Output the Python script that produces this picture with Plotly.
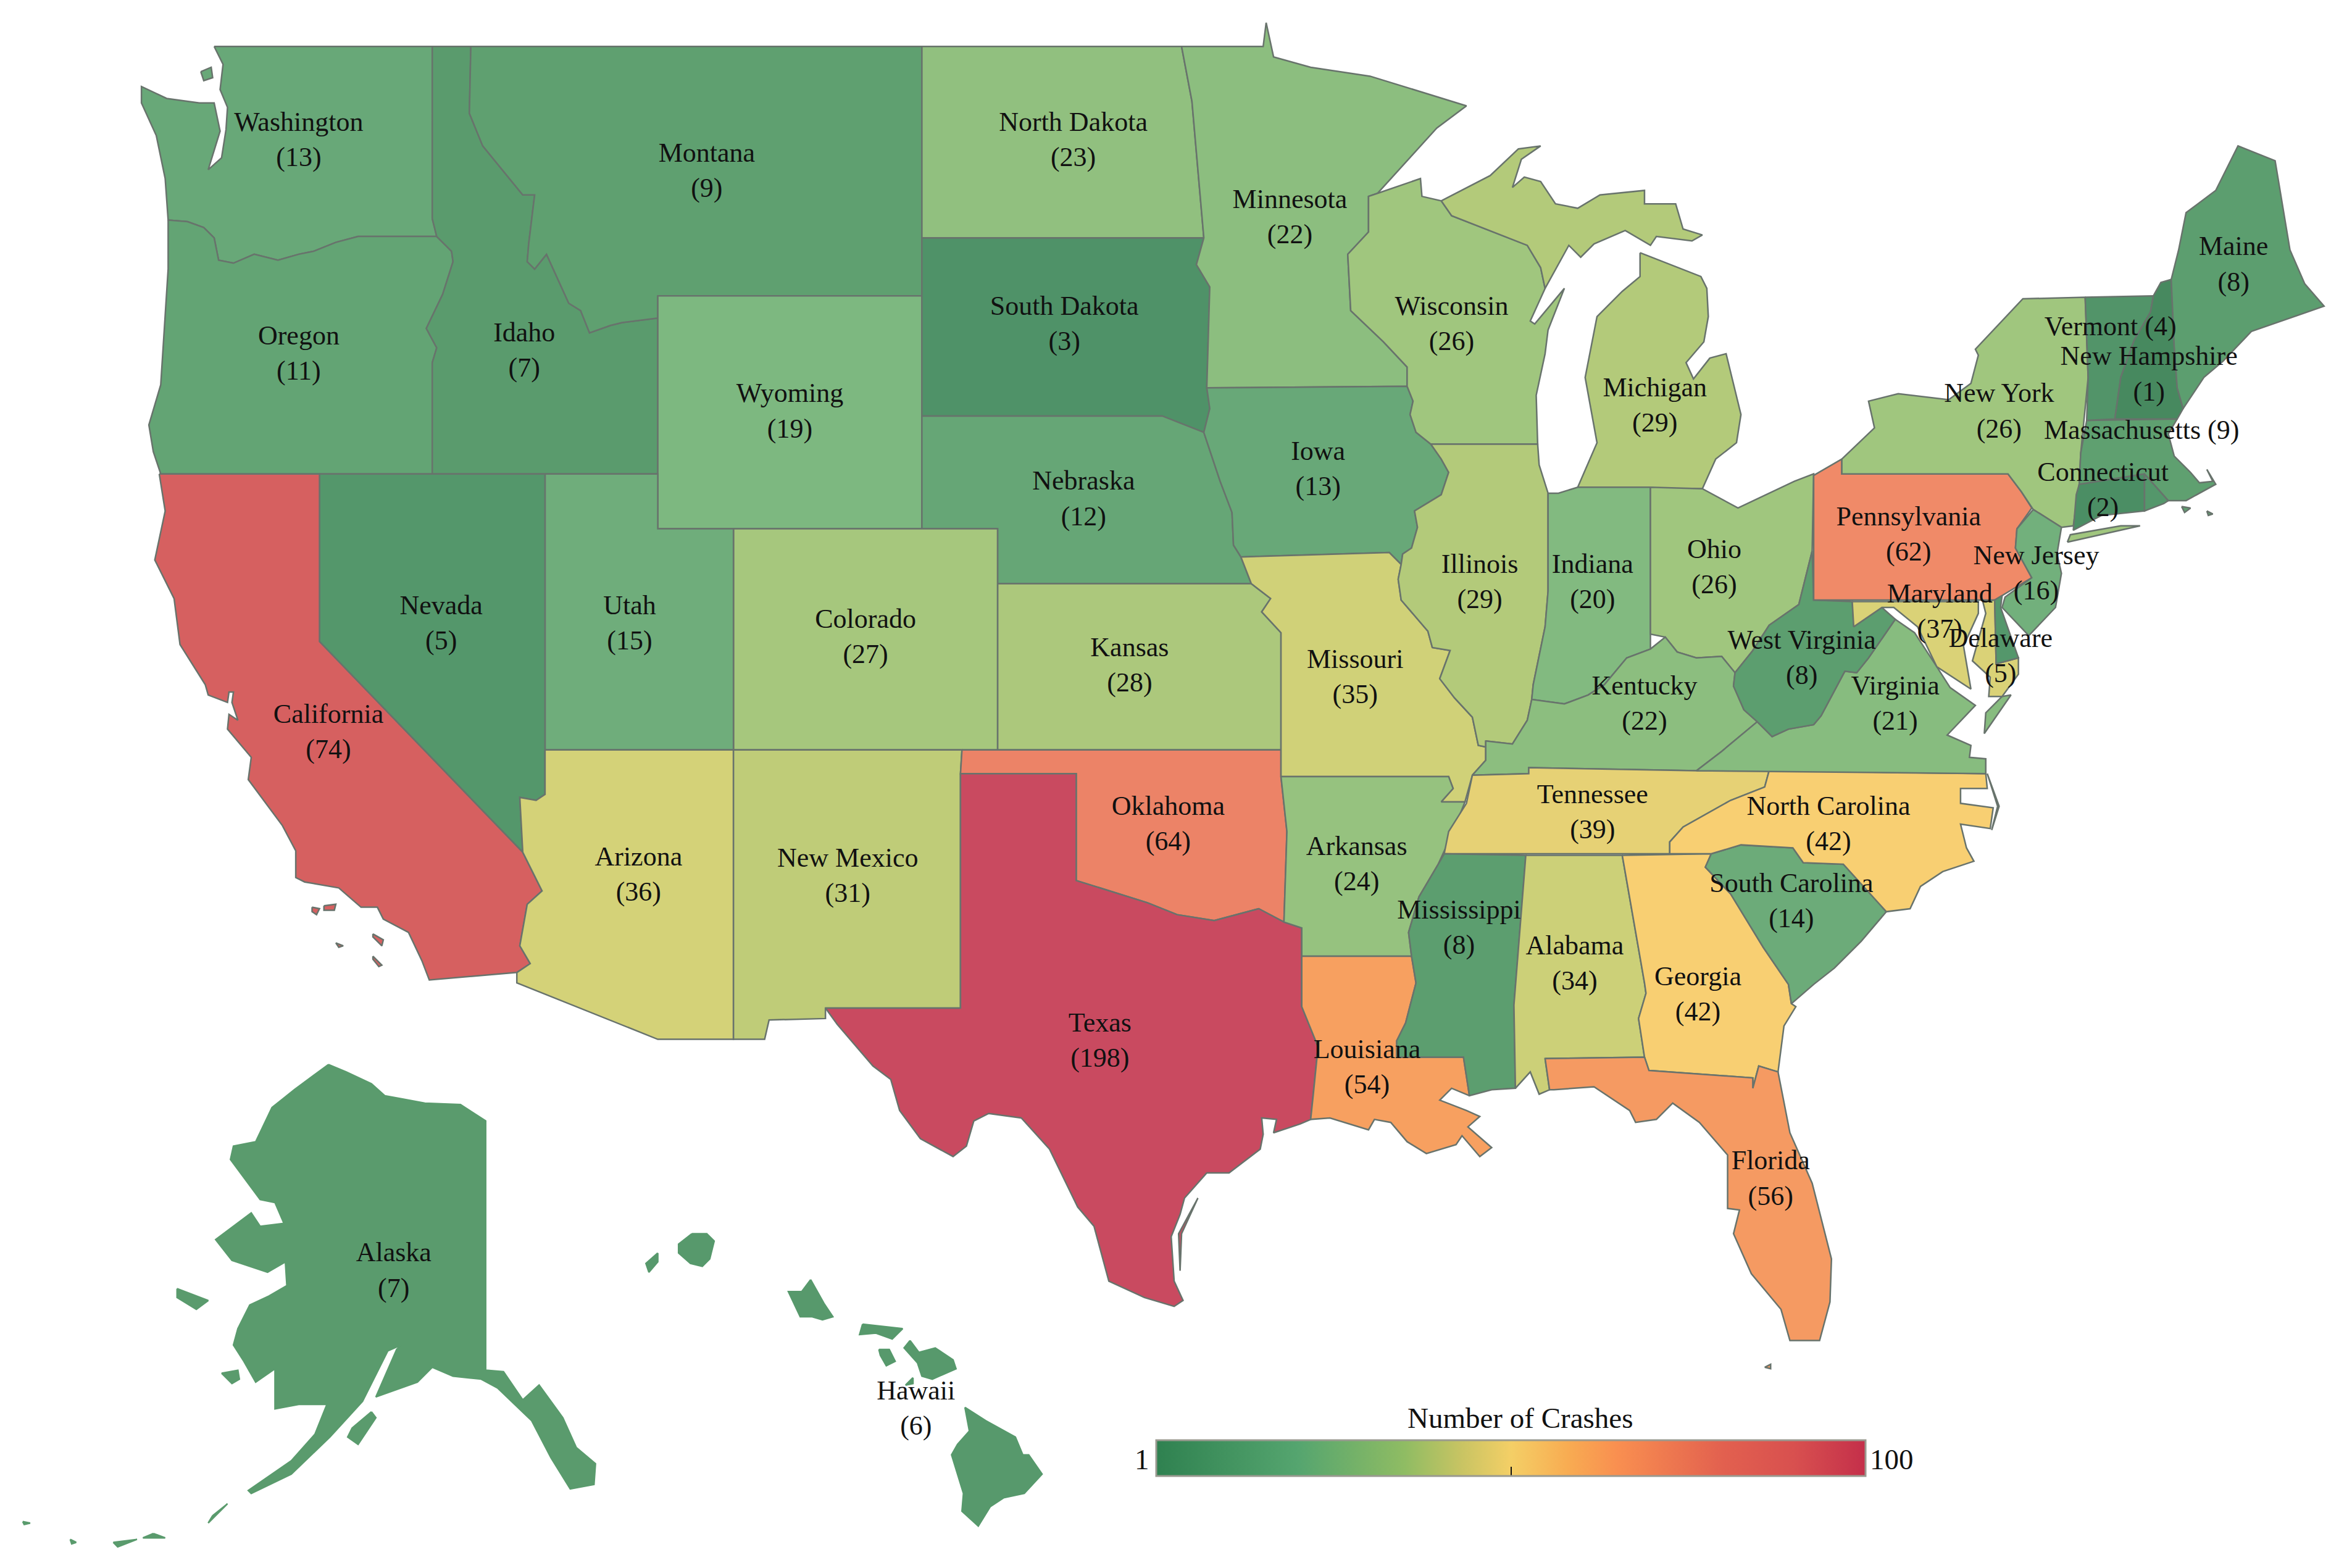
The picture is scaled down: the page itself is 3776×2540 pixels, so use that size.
import plotly.graph_objects as go
from plotly.colors import sample_colorscale
import numpy as np

states = ["Washington", "Oregon", "Idaho", "Montana", "Wyoming", "North Dakota", "South Dakota", "Nebraska",
          "Kansas", "Colorado", "Utah", "Nevada", "California", "Arizona", "New Mexico", "Oklahoma", "Texas",
          "Minnesota", "Iowa", "Missouri", "Arkansas", "Louisiana", "Wisconsin", "Illinois", "Michigan",
          "Indiana", "Ohio", "Kentucky", "Tennessee", "Mississippi", "Alabama", "Georgia", "Florida",
          "South Carolina", "North Carolina", "Virginia", "West Virginia", "Pennsylvania", "New York",
          "New Jersey", "Maryland", "Delaware", "Connecticut", "Massachusetts", "Vermont", "New Hampshire",
          "Maine", "Alaska", "Hawaii"]
crashes = [13, 11, 7, 9, 19, 23, 3, 12, 28, 27, 15, 5, 74, 36, 31, 64, 198, 22, 13, 35, 24, 54, 26, 29, 29,
           20, 26, 22, 39, 8, 34, 42, 56, 14, 42, 21, 8, 62, 26, 16, 37, 5, 2, 9, 4, 1, 8, 7, 6]

# Rhode Island has a fill but no label in the picture, value is a guess from its colour
unlabelled_states = ["Rhode Island"]
unlabelled_crashes = [5]

# one line labels, everything else wraps the count under the name
one_line = ["Massachusetts", "Vermont"]

outlines = {
    "Washington": [[(141, 28), (288, 28), (288, 144), (291, 156), (238, 156), (223, 160), (208, 166), (198, 168),
                    (184, 172), (168, 168), (154, 174), (144, 172), (141, 157), (134, 150), (123, 146), (110, 145),
                    (108, 117), (102, 88), (92, 66), (92, 55), (109, 63), (131, 66), (141, 66), (145, 85), (141, 98),
                    (137, 111), (146, 103), (149, 84), (150, 69), (145, 57), (147, 40)],
                   [(132, 45), (139, 42), (140, 49), (134, 51)]],
    "Oregon": [[(110, 145), (123, 146), (134, 150), (141, 157), (144, 172), (154, 174), (168, 168), (184, 172),
                (198, 168), (208, 166), (223, 160), (238, 156), (291, 156), (301, 166), (302, 173), (295, 195),
                (284, 218), (291, 231), (288, 241), (288, 316), (105, 316), (100, 301), (97, 283), (105, 256),
                (110, 178)]],
    "Idaho": [[(288, 28), (314, 28), (313, 73), (322, 95), (349, 128), (357, 128), (353, 161), (352, 173), (357, 178),
               (365, 168), (380, 201), (388, 206), (394, 221), (408, 216), (416, 214), (440, 211), (440, 316),
               (288, 316), (288, 241), (291, 231), (284, 218), (295, 195), (302, 173), (301, 166), (291, 156),
               (288, 144)]],
    "Montana": [[(314, 28), (618, 28), (618, 196), (440, 196), (440, 211), (416, 214), (408, 216), (394, 221),
                 (388, 206), (380, 201), (365, 168), (357, 178), (352, 173), (353, 161), (357, 128), (349, 128),
                 (322, 95), (313, 73)]],
    "Wyoming": [[(440, 196), (618, 196), (618, 353), (440, 353)]],
    "North Dakota": [[(618, 28), (793, 28), (800, 65), (808, 157), (618, 157)]],
    "South Dakota": [[(618, 157), (808, 157), (803, 175), (812, 190), (810, 258), (812, 272), (808, 288), (780, 277),
                      (618, 277)]],
    "Nebraska": [[(618, 277), (780, 277), (808, 288), (819, 321), (827, 342), (828, 364), (833, 372), (840, 390),
                  (669, 390), (669, 353), (618, 353)]],
    "Kansas": [[(669, 390), (840, 390), (853, 400), (847, 409), (860, 423), (860, 502), (669, 502)]],
    "Colorado": [[(491, 353), (669, 353), (669, 502), (491, 502)]],
    "Utah": [[(364, 316), (440, 316), (440, 353), (491, 353), (491, 502), (364, 502)]],
    "Nevada": [[(212, 316), (364, 316), (364, 532), (358, 536), (347, 534), (349, 571), (212, 429)]],
    "California": [[(104, 316), (212, 316), (212, 429), (349, 571), (362, 597), (352, 606), (347, 634), (354, 646),
                     (345, 652), (286, 657), (281, 644), (272, 625), (255, 616), (251, 608), (240, 608), (225, 595),
                     (202, 591), (196, 588), (196, 570), (187, 553), (164, 522), (166, 507), (150, 488), (151, 478),
                     (157, 482), (153, 470), (154, 463), (151, 463), (150, 470), (137, 465), (135, 458), (118, 431),
                     (114, 400), (101, 374), (108, 341)],
                    [(215, 607), (223, 606), (222, 610), (215, 610)], [(207, 608), (212, 609), (210, 613), (207, 611)],
                    [(248, 626), (255, 630), (254, 634), (248, 628)], [(248, 641), (254, 647), (252, 648), (248, 643)],
                    [(223, 632), (228, 634), (225, 635)]],
    "Arizona": [[(364, 502), (491, 502), (491, 697), (440, 697), (345, 659), (345, 652), (354, 646), (347, 634),
                 (352, 606), (362, 597), (349, 571), (347, 534), (358, 536), (364, 532)]],
    "New Mexico": [[(491, 502), (645, 502), (644, 518), (644, 676), (553, 676), (553, 683), (515, 684), (512, 697),
                    (491, 697)]],
    "Oklahoma": [[(645, 502), (860, 502), (860, 520), (864, 557), (862, 618), (845, 609), (815, 617), (790, 613),
                  (770, 605), (722, 590), (722, 518), (644, 518)]],
    "Texas": [[(644, 518), (722, 518), (722, 590), (770, 605), (790, 613), (815, 617), (845, 609), (862, 618),
               (874, 622), (874, 675), (885, 702), (882, 732), (880, 751), (873, 754), (855, 760), (857, 751),
               (847, 750), (848, 761), (846, 771), (825, 787), (810, 787), (795, 804), (792, 815), (786, 830),
               (787, 843), (788, 860), (794, 873), (788, 877), (768, 871), (744, 860), (734, 823), (723, 810),
               (704, 771), (685, 750), (663, 747), (653, 752), (648, 769), (639, 776), (617, 764), (603, 745),
               (597, 724), (585, 715), (561, 687), (553, 676), (644, 676)],
              [(792, 853), (791, 828), (804, 804), (793, 828)]],
    "Minnesota": [[(793, 28), (848, 28), (850, 12), (855, 35), (880, 42), (920, 48), (985, 68), (965, 83), (925, 127),
                   (919, 129), (919, 153), (905, 168), (907, 206), (929, 227), (945, 244), (945, 257), (810, 258),
                   (812, 190), (803, 175), (808, 157), (800, 65)]],
    "Iowa": [[(810, 258), (945, 257), (949, 267), (947, 276), (951, 288), (961, 296), (968, 306), (973, 315),
              (968, 330), (950, 341), (952, 352), (948, 366), (942, 370), (941, 377), (933, 369), (833, 372),
              (828, 364), (827, 342), (819, 321), (808, 288), (812, 272)]],
    "Missouri": [[(833, 372), (933, 369), (941, 377), (939, 387), (941, 401), (959, 422), (962, 433), (974, 435),
                  (967, 454), (977, 467), (989, 480), (993, 499), (998, 500), (998, 509), (989, 519), (984, 537),
                  (968, 537), (976, 528), (973, 520), (860, 520), (860, 423), (847, 409), (853, 400), (840, 390)]],
    "Arkansas": [[(860, 520), (973, 520), (976, 528), (968, 537), (984, 537), (976, 557), (966, 579), (953, 601),
                  (946, 625), (948, 641), (874, 641), (874, 622), (862, 618), (864, 557)]],
    "Louisiana": [[(874, 641), (948, 641), (951, 659), (944, 686), (938, 698), (938, 709), (983, 709), (987, 735),
                   (975, 730), (967, 738), (985, 745), (994, 749), (986, 756), (1002, 770), (994, 776), (982, 762),
                   (978, 768), (958, 774), (945, 766), (934, 753), (923, 751), (919, 758), (893, 750), (880, 751),
                   (882, 732), (885, 702), (874, 675)]],
    "Wisconsin": [[(925, 127), (954, 117), (955, 129), (968, 132), (975, 142), (1026, 162), (1035, 177), (1038, 191),
                   (1028, 213), (1031, 215), (1051, 191), (1040, 219), (1038, 235), (1032, 263), (1033, 296),
                   (961, 296), (951, 288), (947, 276), (949, 267), (945, 257), (945, 244), (929, 227), (907, 206),
                   (905, 168), (919, 153), (919, 129)]],
    "Illinois": [[(961, 296), (1033, 296), (1034, 310), (1040, 329), (1040, 395), (1038, 419), (1030, 458),
                  (1029, 468), (1026, 482), (1016, 498), (998, 496), (998, 500), (993, 499), (989, 480), (977, 467),
                  (967, 454), (974, 435), (962, 433), (959, 422), (941, 401), (939, 387), (941, 377), (942, 370),
                  (948, 366), (952, 352), (950, 341), (968, 330), (973, 315), (968, 306)]],
    "Michigan": [[(968, 132), (1001, 115), (1020, 97), (1035, 95), (1022, 104), (1016, 123), (1024, 116), (1035, 119),
                  (1045, 134), (1060, 137), (1075, 128), (1105, 125), (1105, 134), (1126, 134), (1131, 151),
                  (1144, 155), (1137, 159), (1113, 156), (1109, 162), (1092, 152), (1071, 161), (1062, 170),
                  (1054, 162), (1038, 191), (1035, 177), (1026, 162), (975, 142)],
                 [(1102, 167), (1143, 183), (1147, 191), (1148, 210), (1145, 227), (1133, 241), (1138, 252),
                  (1149, 238), (1160, 235), (1170, 276), (1167, 295), (1153, 306), (1144, 326), (1060, 325),
                  (1073, 295), (1065, 251), (1073, 210), (1090, 193), (1102, 183)]],
    "Indiana": [[(1040, 329), (1047, 329), (1060, 325), (1109, 325), (1109, 434), (1093, 440), (1078, 458), (1067, 465),
                 (1051, 471), (1029, 468), (1030, 458), (1038, 419), (1040, 395)]],
    "Ohio": [[(1109, 325), (1144, 326), (1168, 339), (1206, 321), (1219, 316), (1218, 368), (1209, 404), (1189, 418),
              (1178, 435), (1166, 450), (1157, 439), (1140, 440), (1127, 436), (1119, 426), (1109, 424)]],
    "Kentucky": [[(998, 496), (1016, 498), (1026, 482), (1029, 468), (1051, 471), (1067, 465), (1078, 458), (1093, 440),
                  (1109, 434), (1119, 426), (1127, 436), (1140, 440), (1157, 439), (1166, 450), (1165, 459),
                  (1172, 475), (1181, 483), (1157, 503), (1140, 516), (1027, 514), (1027, 518), (989, 519), (998, 509),
                  (998, 500)]],
    "Tennessee": [[(989, 519), (1027, 518), (1027, 514), (1140, 516), (1189, 516), (1186, 527), (1163, 536),
                   (1131, 554), (1122, 564), (1122, 572), (970, 572), (973, 557), (985, 538)]],
    "Mississippi": [[(970, 572), (1025, 573), (1017, 674), (1018, 730), (1002, 731), (987, 735), (983, 709), (938, 709),
                     (938, 698), (944, 686), (951, 659), (948, 641), (946, 625), (953, 601), (966, 579)]],
    "Alabama": [[(1025, 573), (1090, 573), (1105, 659), (1106, 666), (1101, 683), (1105, 709), (1038, 710), (1041, 731),
                 (1034, 734), (1028, 719), (1018, 730), (1017, 674)]],
    "Georgia": [[(1090, 573), (1150, 572), (1146, 581), (1163, 599), (1185, 635), (1202, 660), (1204, 673), (1207, 675),
                 (1199, 688), (1195, 719), (1182, 715), (1178, 730), (1178, 723), (1108, 718), (1105, 709), (1101, 683),
                 (1106, 666), (1105, 659)]],
    "Florida": [[(1038, 710), (1105, 709), (1108, 718), (1178, 723), (1178, 730), (1182, 715), (1195, 719), (1203, 760),
                 (1218, 794), (1231, 845), (1230, 874), (1223, 900), (1203, 900), (1197, 879), (1177, 855), (1165, 828),
                 (1169, 812), (1161, 811), (1161, 789), (1161, 775), (1142, 753), (1124, 740), (1113, 751), (1099, 753),
                 (1095, 745), (1071, 729), (1044, 731), (1041, 731)],
                [(1186, 918), (1190, 916), (1190, 919)]],
    "South Carolina": [[(1150, 572), (1170, 566), (1205, 568), (1212, 578), (1239, 579), (1268, 611), (1251, 631),
                        (1233, 649), (1219, 660), (1204, 673), (1202, 660), (1185, 635), (1163, 599), (1146, 581)]],
    "North Carolina": [[(1189, 516), (1335, 518), (1336, 528), (1318, 528), (1318, 538), (1340, 541), (1338, 555),
                        (1318, 552), (1322, 568), (1327, 577), (1306, 584), (1291, 594), (1284, 609), (1268, 611),
                        (1239, 579), (1212, 578), (1205, 568), (1170, 566), (1150, 572), (1122, 572), (1122, 564),
                        (1131, 554), (1163, 536), (1186, 527)],
                       [(1336, 518), (1344, 540), (1339, 556), (1343, 540)]],
    "Virginia": [[(1140, 516), (1157, 503), (1181, 483), (1191, 493), (1202, 488), (1219, 485), (1224, 479), (1240, 449),
                  (1248, 450), (1256, 440), (1274, 414), (1287, 423), (1302, 446), (1311, 460), (1328, 472), (1309, 492),
                  (1325, 499), (1324, 507), (1335, 508), (1335, 518)],
                 [(1346, 466), (1352, 465), (1334, 491), (1335, 477)]],
    "West Virginia": [[(1218, 368), (1219, 401), (1245, 402), (1246, 419), (1265, 406), (1274, 414), (1256, 440),
                       (1248, 450), (1240, 449), (1224, 479), (1219, 485), (1202, 488), (1191, 493), (1181, 483),
                       (1172, 475), (1165, 459), (1166, 450), (1178, 435), (1189, 418), (1209, 404)]],
    "Pennsylvania": [[(1219, 317), (1238, 306), (1238, 316), (1350, 316), (1359, 328), (1366, 339), (1356, 353),
                      (1355, 366), (1366, 386), (1346, 398), (1341, 401), (1219, 401)]],
    "New York": [[(1238, 306), (1260, 285), (1256, 267), (1276, 262), (1310, 266), (1325, 255), (1330, 236), (1328, 232),
                  (1360, 198), (1402, 197), (1404, 251), (1399, 302), (1398, 323), (1394, 351), (1386, 352), (1367, 340),
                  (1359, 328), (1350, 316), (1238, 316)],
                 [(1390, 362), (1439, 351), (1426, 351), (1392, 357)]],
    "New Jersey": [[(1367, 340), (1386, 352), (1383, 370), (1386, 383), (1382, 406), (1364, 425), (1346, 406),
                    (1348, 399), (1366, 386), (1355, 366), (1356, 353)]],
    "Maryland": [[(1245, 402), (1330, 402), (1330, 410), (1320, 432), (1325, 461), (1302, 446), (1289, 419), (1273, 406),
                  (1265, 406), (1246, 419)],
                 [(1333, 402), (1341, 401), (1342, 444), (1357, 440), (1357, 451), (1346, 466), (1337, 466), (1338, 453),
                  (1326, 442), (1335, 410)]],
    "Delaware": [[(1341, 401), (1346, 398), (1345, 406), (1357, 440), (1342, 444)]],
    "Connecticut": [[(1398, 323), (1442, 316), (1442, 341), (1413, 344), (1394, 354), (1396, 330)]],
    "Rhode Island": [[(1442, 316), (1458, 334), (1455, 336), (1442, 341)]],
    "Massachusetts": [[(1403, 280), (1464, 279), (1458, 289), (1462, 304), (1473, 315), (1479, 322), (1488, 321),
                       (1484, 313), (1490, 323), (1470, 334), (1458, 334), (1442, 316), (1398, 323), (1399, 302)],
                      [(1467, 338), (1473, 339), (1469, 342)], [(1484, 341), (1488, 343), (1485, 344)]],
    "Vermont": [[(1402, 197), (1448, 196), (1446, 207), (1435, 226), (1426, 251), (1422, 279), (1403, 280), (1404, 251)]],
    "New Hampshire": [[(1448, 196), (1453, 187), (1460, 185), (1462, 230), (1464, 258), (1468, 272), (1464, 279),
                       (1422, 279), (1426, 251), (1435, 226), (1446, 207)]],
    "Maine": [[(1460, 185), (1465, 165), (1470, 140), (1490, 125), (1505, 95), (1530, 105), (1540, 165), (1550, 188),
               (1563, 203), (1514, 220), (1495, 240), (1482, 251), (1468, 272), (1464, 258), (1462, 230)]],
    "Alaska": [[(218, 714), (230, 719), (247, 727), (256, 735), (283, 740), (307, 741), (324, 752), (324, 920), (336, 921),
                (349, 940), (360, 930), (376, 952), (385, 972), (398, 983), (397, 997), (381, 1000), (368, 979),
                (355, 954), (332, 932), (321, 926), (302, 924), (288, 918), (278, 928), (250, 938), (264, 906),
                (267, 903), (258, 907), (241, 941), (219, 965), (193, 990), (166, 1003), (164, 1001), (193, 981),
                (209, 963), (217, 943), (198, 943), (182, 946), (182, 919), (169, 928), (161, 914), (154, 903),
                (157, 892), (165, 876), (178, 870), (190, 863), (189, 847), (177, 854), (153, 846), (142, 832),
                (166, 814), (172, 823), (188, 821), (182, 807), (172, 805), (152, 778), (154, 769), (169, 766),
                (180, 743), (195, 731)],
               [(116, 865), (137, 873), (129, 879), (116, 871)], [(146, 922), (157, 920), (158, 926), (153, 929)],
               [(247, 948), (250, 952), (238, 970), (231, 965), (234, 959)], [(140, 1018), (150, 1010), (137, 1023)],
               [(100, 1030), (108, 1033), (93, 1033)], [(73, 1036), (89, 1034), (76, 1039)],
               [(44, 1034), (48, 1036), (45, 1037)], [(12, 1022), (17, 1023), (13, 1024)]],
    "Hawaii": [[(463, 828), (473, 828), (478, 833), (475, 845), (470, 850), (462, 848), (454, 841), (454, 835)],
               [(440, 841), (440, 847), (434, 854), (432, 848)],
               [(543, 859), (552, 875), (558, 884), (551, 886), (544, 884), (536, 884), (528, 867), (537, 867)],
               [(578, 889), (605, 892), (598, 899), (587, 895), (576, 896)],
               [(589, 906), (596, 906), (600, 914), (594, 917), (590, 910)],
               [(610, 900), (616, 908), (627, 905), (639, 913), (641, 919), (625, 926), (618, 924), (615, 915),
                (606, 905)],
               [(612, 925), (612, 929), (607, 930)],
               [(647, 945), (661, 954), (681, 965), (686, 977), (690, 977), (699, 990), (687, 1003), (673, 1006),
                (664, 1012), (656, 1025), (645, 1015), (646, 1003), (638, 977), (642, 970), (650, 961)]],
}

# coasts with no visible edge in the picture
borderless = ["Alaska", "Hawaii"]

label_xy = [(198, 92), (198, 236), (350, 234), (473, 113), (529, 275), (720, 92), (714, 216), (727, 334), (758, 446),
            (580, 427), (421, 418), (294, 418), (218, 491), (427, 587), (568, 588), (784, 553), (738, 699), (866, 144),
            (885, 314), (910, 454), (911, 580), (918, 717), (975, 216), (994, 390), (1112, 271), (1070, 390),
            (1152, 380), (1105, 472), (1070, 545), (980, 623), (1058, 647), (1141, 668), (1190, 792), (1204, 605),
            (1229, 553), (1274, 472), (1211, 441), (1283, 358), (1344, 275), (1369, 384), (1304, 410), (1345, 440),
            (1414, 328), (1440, 288), (1419, 218), (1445, 250), (1502, 176), (262, 854), (614, 947)]

map_colors = [[0, "#47895f"], [0.024, "#4f9268"], [0.098, "#5fa070"], [0.146, "#68a878"], [0.22, "#7db880"],
              [0.305, "#a0c67e"], [0.366, "#bfcc78"], [0.427, "#d4d278"], [0.5, "#f8cf72"], [0.603, "#f7a060"],
              [0.672, "#f08a68"], [0.776, "#d66060"], [1, "#c94a60"]]
bar_colors = [[0, "#2f8150"], [0.2, "#55a56f"], [0.35, "#8fbc63"], [0.43, "#c8c463"], [0.5, "#f4cf66"],
              [0.58, "#f8ac52"], [0.65, "#f98f50"], [0.8, "#e2604f"], [0.9, "#d8504f"], [1, "#c42f4a"]]


# colour bar is diverging with its middle around 42 crashes
def bar_position(count):
    return float(np.interp(count, [1, 42, 100], [0, 0.5, 1]))


fig = go.Figure()
all_counts = dict(zip(states + unlabelled_states, crashes + unlabelled_crashes))
for name, parts in outlines.items():
    xs, ys = [], []
    for part in parts:
        xs += [p[0] for p in part] + [part[0][0], None]
        ys += [p[1] for p in part] + [part[0][1], None]
    fill = sample_colorscale(map_colors, bar_position(all_counts[name]))[0]
    edge = fill if name in borderless else "#68736c"
    fig.add_trace(go.Scatter(x=xs, y=ys, mode="lines", fill="toself", fillcolor=fill, name=name,
                             line=dict(color=edge, width=2.5), hoverinfo="skip"))

labels = []
for name, count in zip(states, crashes):
    sep = " " if name in one_line else "<br>"
    labels.append(f"{name}{sep}({count})")
fig.add_trace(go.Scatter(x=[p[0] for p in label_xy], y=[p[1] for p in label_xy], text=labels, mode="markers+text",
                         textposition="middle center", hoverinfo="skip",
                         textfont=dict(family="Liberation Serif", size=44, color="#111111"),
                         marker=dict(size=1, opacity=0, color=[bar_position(c) for c in crashes],
                                     coloraxis="coloraxis")))

fig.update_layout(
    width=3776, height=2540, margin=dict(l=0, r=0, t=0, b=0), paper_bgcolor="white", plot_bgcolor="white",
    showlegend=False,
    xaxis=dict(visible=False, range=[0, 1571], domain=[0, 1]),
    yaxis=dict(visible=False, range=[1056.6, 0], domain=[0, 1]),
    coloraxis=dict(colorscale=bar_colors, cmin=0, cmax=1,
                   colorbar=dict(orientation="h", x=1865 / 3776, xanchor="left", y=1 - 2402 / 2540, yanchor="bottom",
                                 lenmode="pixels", len=1149, thickness=58, xpad=0, ypad=0,
                                 outlinecolor="#9a9a90", outlinewidth=3,
                                 tickmode="array", tickvals=[0.5], ticktext=[""], ticks="inside", ticklen=16,
                                 tickwidth=2, tickcolor="#111111")),
)
serif = dict(family="Liberation Serif", size=47, color="#111111")
fig.add_annotation(text="Number of Crashes", x=1021, y=952, showarrow=False, font=serif)
fig.add_annotation(text="1", x=772, y=980, xanchor="right", showarrow=False, font=serif)
fig.add_annotation(text="100", x=1256, y=980, xanchor="left", showarrow=False, font=serif)
fig.write_html("out.html")
